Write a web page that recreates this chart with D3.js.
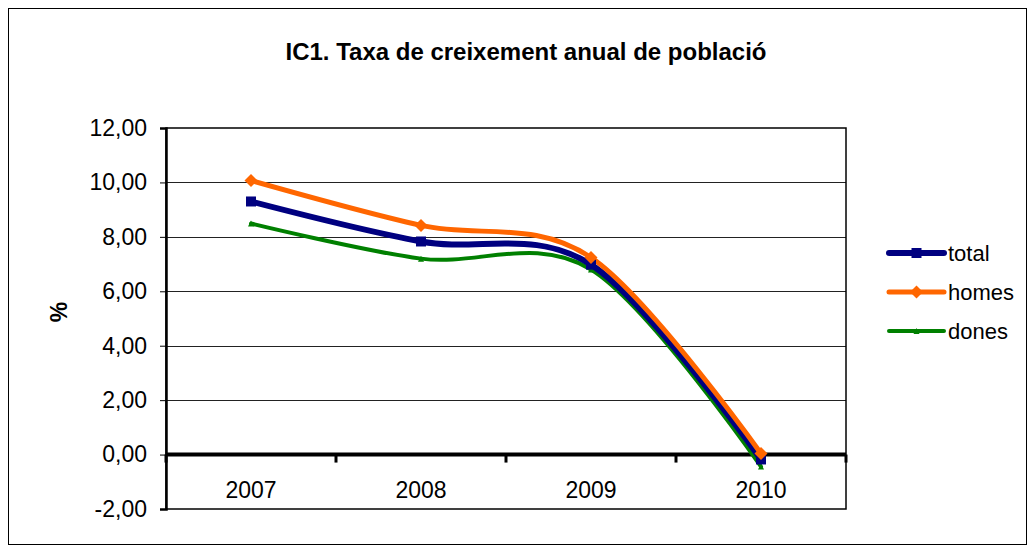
<!DOCTYPE html>
<html>
<head>
<meta charset="utf-8">
<script src="https://cdn.jsdelivr.net/npm/d3@7"></script>
<style>
  body { margin: 0; background: #fff; }
  svg { display: block; font-family: "Liberation Sans", Arial, sans-serif; }
</style>
</head>
<body>
<svg id="chart" width="1035" height="553"></svg>
<script>
// Annual population growth rate (%), by year
const years = ["2007", "2008", "2009", "2010"];
const total = [9.30, 7.83, 6.98, -0.18];
const homes = [10.07, 8.42, 7.24, 0.04];
const dones = [8.49, 7.20, 6.80, -0.44];
const yTicks = [-2, 0, 2, 4, 6, 8, 10, 12];

const series = [
  { name: "total", values: total, color: "#000080", width: 6, marker: "square", size: 10 },
  { name: "homes", values: homes, color: "#FF6600", width: 5, marker: "diamond", size: 13 },
  { name: "dones", values: dones, color: "#008000", width: 4, marker: "triangle", size: 6 }
];

const svg = d3.select("#chart");
const W = 1035, H = 553;
const plot = { left: 166, right: 846, top: 128, bottom: 509 };

// outer frame
svg.append("rect").attr("x", 8.5).attr("y", 8.5).attr("width", W - 17).attr("height", H - 17)
  .attr("fill", "#fff").attr("stroke", "#000").attr("stroke-width", 1);

const x = d3.scaleBand().domain(years).range([plot.left, plot.right]).padding(0);
const y = d3.scaleLinear().domain([-2, 12]).range([plot.bottom, plot.top]);
const fmt = v => d3.format(".2f")(v).replace(".", ",").replace("\u2212", "-");

// horizontal gridlines
svg.append("g").selectAll("line").data(yTicks.filter(t => t !== 0 && t !== -2 && t !== 12))
  .join("line")
  .attr("x1", plot.left).attr("x2", plot.right)
  .attr("y1", d => Math.round(y(d)) + 0.5).attr("y2", d => Math.round(y(d)) + 0.5)
  .attr("stroke", "#222").attr("stroke-width", 1);

// plot-area border
svg.append("rect").attr("x", plot.left).attr("y", y(12)).attr("width", plot.right - plot.left)
  .attr("height", y(-2) - y(12)).attr("fill", "none").attr("stroke", "#000").attr("stroke-width", 1.5);

// y axis
const yAxis = d3.axisLeft(y).tickValues(yTicks).tickSize(6).tickPadding(13).tickFormat(fmt);
const gy = svg.append("g").attr("transform", `translate(${plot.left},0)`).call(yAxis);
gy.select(".domain").attr("stroke", "#000").attr("stroke-width", 2.5);
gy.selectAll(".tick line").attr("stroke", "#000").attr("stroke-width", 1);
gy.selectAll("text").attr("font-size", 23).attr("fill", "#000")
  .attr("font-family", "'Liberation Sans', Arial, sans-serif");

// category axis on the zero line
const gx = svg.append("g").attr("transform", `translate(0,${y(0)})`);
gx.append("line").attr("x1", plot.left).attr("x2", plot.right).attr("y1", 0).attr("y2", 0)
  .attr("stroke", "#000").attr("stroke-width", 4);
const bounds = years.map(d => x(d)).concat([plot.right]);
gx.selectAll("line.tk").data(bounds).join("line").attr("class", "tk")
  .attr("x1", d => d).attr("x2", d => d).attr("y1", 0).attr("y2", 8)
  .attr("stroke", "#000").attr("stroke-width", 3);
gx.selectAll("text").data(years).join("text")
  .attr("x", d => x(d) + x.bandwidth() / 2).attr("y", 43)
  .attr("text-anchor", "middle").attr("font-size", 23).text(d => d);

// smoothed series lines
const line = d3.line()
  .x((d, i) => x(years[i]) + x.bandwidth() / 2)
  .y(d => y(d))
  .curve(d3.curveCardinal.tension(0));

const order = [series[2], series[0], series[1]];
order.forEach(s => {
  svg.append("path").datum(s.values).attr("d", line)
    .attr("fill", "none").attr("stroke", s.color).attr("stroke-width", s.width)
    .attr("stroke-linejoin", "round").attr("stroke-linecap", "round");
});

function markerPath(type, size) {
  const h = size / 2;
  if (type === "square") return `M${-h},${-h}H${h}V${h}H${-h}Z`;
  if (type === "diamond") return `M0,${-h}L${h},0L0,${h}L${-h},0Z`;
  return `M0,${-h}L${h},${h}L${-h},${h}Z`;
}

order.forEach(s => {
  svg.append("g").selectAll("path").data(s.values).join("path")
    .attr("transform", (d, i) => `translate(${x(years[i]) + x.bandwidth() / 2},${y(d)})`)
    .attr("d", markerPath(s.marker, s.size)).attr("fill", s.color);
});

// title
svg.append("text").attr("x", 526).attr("y", 60).attr("text-anchor", "middle")
  .attr("font-size", 24).attr("font-weight", "bold").text("IC1. Taxa de creixement anual de població");

// y-axis title
svg.append("text").attr("transform", "translate(67,312) rotate(-90)").attr("text-anchor", "middle")
  .attr("font-size", 23).attr("font-weight", "bold").text("%");

// legend
const lg = svg.append("g");
series.forEach((s, i) => {
  const cy = 253 + i * 39;
  lg.append("line").attr("x1", 889).attr("x2", 944).attr("y1", cy).attr("y2", cy)
    .attr("stroke", s.color).attr("stroke-width", s.width).attr("stroke-linecap", "round");
  lg.append("path").attr("transform", `translate(916.5,${cy})`)
    .attr("d", markerPath(s.marker, s.size)).attr("fill", s.color);
  lg.append("text").attr("x", 948).attr("y", cy + 8).attr("font-size", 22).text(s.name);
});
</script>
</body>
</html>
